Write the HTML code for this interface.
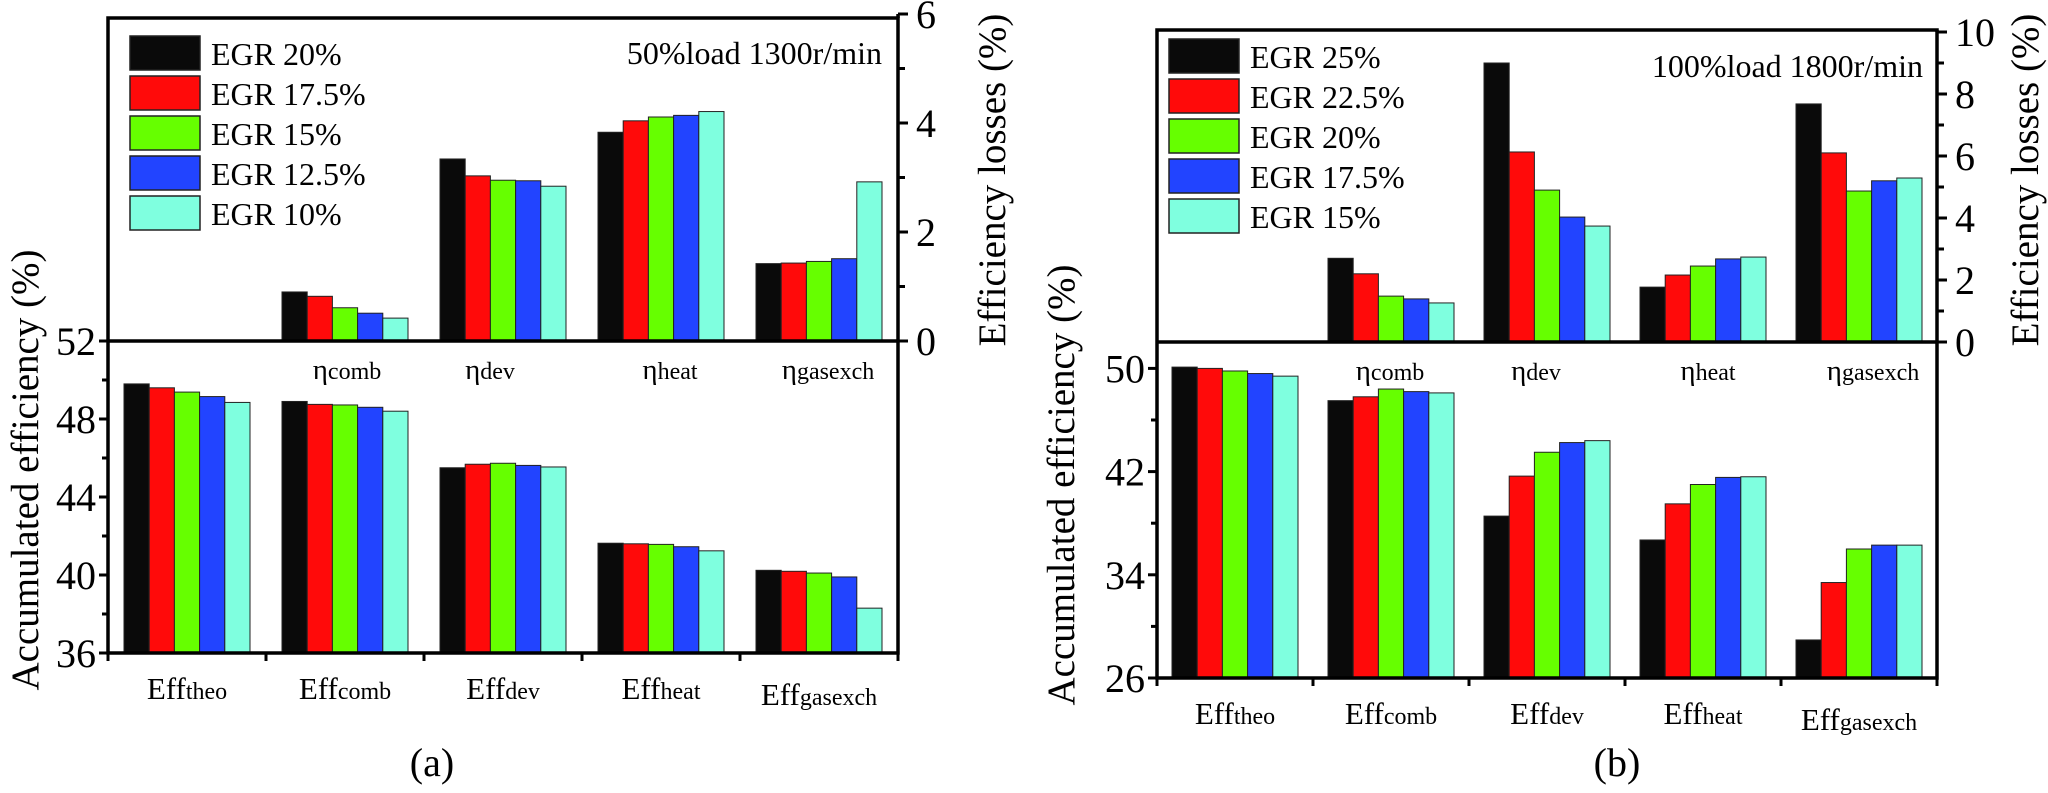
<!DOCTYPE html>
<html><head><meta charset="utf-8"><style>
html,body{margin:0;padding:0;background:#fff;}
svg, svg text{font-family:"Liberation Serif","Times New Roman",serif;}
svg{display:block;}
</style></head>
<body>
<svg id="chart" width="2048" height="793" viewBox="0 0 2048 793" xmlns="http://www.w3.org/2000/svg" font-family="Liberation Serif, serif"></svg>
<script>
const colors = ["#0a0a0a","#ff0a0a","#66ff00","#2244ff","#7fffdf"];
const legendA = ["EGR 20%","EGR 17.5%","EGR 15%","EGR 12.5%","EGR 10%"];
const legendB = ["EGR 25%","EGR 22.5%","EGR 20%","EGR 17.5%","EGR 15%"];
const lossCats = ["","comb","dev","heat","gasexch"];
const accCats = ["theo","comb","dev","heat","gasexch"];
const lossA = [null,[0.90,0.82,0.61,0.51,0.42],[3.34,3.03,2.95,2.94,2.84],[3.83,4.04,4.11,4.14,4.21],[1.42,1.43,1.46,1.51,2.92]];
const accA = [[49.8,49.6,49.38,49.15,48.85],[48.9,48.75,48.72,48.6,48.4],[45.5,45.68,45.73,45.62,45.54],[41.63,41.6,41.57,41.45,41.24],[40.24,40.19,40.1,39.9,38.3]];
const lossB = [null,[2.7,2.2,1.48,1.39,1.26],[9.0,6.13,4.9,4.03,3.74],[1.77,2.16,2.45,2.68,2.74],[7.68,6.1,4.87,5.2,5.29]];
const accB = [[50.1,50.0,49.8,49.6,49.4],[47.5,47.8,48.4,48.2,48.1],[38.55,41.65,43.5,44.25,44.4],[36.7,39.5,41.0,41.55,41.6],[28.95,33.4,36.0,36.3,36.3]];
const ticksLeftA = [36,40,44,48,52], ticksRightA=[0,2,4,6];
const ticksLeftB = [26,34,42,50], ticksRightB=[0,2,4,6,8,10];

const svg = document.getElementById('chart');
const NS = "http://www.w3.org/2000/svg";
const FF = "Liberation Serif, Times New Roman, serif";
function mk(tag, attrs, parent){const e=document.createElementNS(NS,tag);for(const k in attrs)e.setAttribute(k,attrs[k]);if(tag==='text')e.setAttribute('font-family',FF);(parent||svg).appendChild(e);return e;}

function panel(P){
  const g = mk('g',{});
  
  
  const band=(P.x1-P.x0)/5, bw=25.2;
  const yL = v => P.accBase - (v - P.accMin)*P.accScale;
  const yR = v => P.mid - v*P.lossScale;
  P.acc.forEach((row,ci)=>row.forEach((v,si)=>{
    const x = P.x0 + band*ci + (band-5*bw)/2 + si*bw;
    const r = mk('rect',{x:x,y:yL(v),width:bw,height:P.accBase-yL(v),fill:colors[si],stroke:"#222","stroke-width":1},g);
    
    
  }));
  P.loss.forEach((row,ci)=>{ if(!row) return; row.forEach((v,si)=>{
    const x = P.x0 + band*ci + (band-5*bw)/2 + si*bw;
    const r = mk('rect',{x:x,y:yR(v),width:bw,height:P.mid-yR(v),fill:colors[si],stroke:"#222","stroke-width":1},g);
    
    
  });});
  mk('rect',{x:P.x0,y:P.top,width:P.x1-P.x0,height:P.accBase-P.top,fill:"none",stroke:"#000","stroke-width":3.5},g);
  mk('line',{x1:P.x0,x2:P.x1,y1:P.mid,y2:P.mid,stroke:"#000","stroke-width":3.5},g);
  P.tL.forEach((t,i)=>{
    const y=yL(t);
    mk('line',{x1:P.x0-9,x2:P.x0,y1:y,y2:y,stroke:"#000","stroke-width":3},g);
    const tx=mk('text',{x:P.x0-12,y:y+14,"font-size":40,"text-anchor":"end"},g);tx.textContent=t;
    
    
    if(i<P.tL.length-1){const ym=yL(t+P.tLstep/2);mk('line',{x1:P.x0-6,x2:P.x0,y1:ym,y2:ym,stroke:"#000","stroke-width":3},g);}
  });
  P.tR.forEach((t,i)=>{
    const y=yR(t);
    mk('line',{x1:P.x1,x2:P.x1+10,y1:y,y2:y,stroke:"#000","stroke-width":3},g);
    const tx=mk('text',{x:P.x1+18,y:y+14,"font-size":40},g);tx.textContent=t;
    
    
    if(i<P.tR.length-1){const ym=yR(t+1);mk('line',{x1:P.x1,x2:P.x1+7,y1:ym,y2:ym,stroke:"#000","stroke-width":3},g);}
  });
  for(let i=0;i<=5;i++){const x=P.x0+band*i;mk('line',{x1:x,x2:x,y1:P.accBase,y2:P.accBase+8,stroke:"#000","stroke-width":3},g);}
  mk('line',{x1:P.x1,x2:P.x1,y1:yR(P.tR[P.tR.length-1]),y2:P.top,stroke:"#000","stroke-width":3.5},g);
  accCats.forEach((c,i)=>{
    const cx=P.x0+band*i+band/2;
    const t=mk('text',{x:cx,y:P.accBase+46,"font-size":31,"text-anchor":"middle"},g);
    
    
    t.innerHTML='Eff<tspan font-size="24">'+c+'</tspan>';
    if(c==='gasexch') t.setAttribute('y',P.accBase+52);
  });
  P.etaX.forEach((x,i)=>{
    const t=mk('text',{x:x,y:P.mid+38,"font-size":29,"text-anchor":"middle"},g);
    
    
    t.innerHTML='η<tspan font-size="24">'+lossCats[i+1]+'</tspan>';
  });
  P.leg.forEach((L,i)=>{
    const y=P.legY+i*40;
    const r=mk('rect',{x:P.legX,y:y,width:70,height:34,fill:colors[i],stroke:"#222","stroke-width":1.5},g);
    
    
    const t=mk('text',{x:P.legX+81,y:y+29,"font-size":32},g);t.textContent=L;
    
    
  });
  const an=mk('text',{x:P.annX,y:P.annY,"font-size":32,"text-anchor":"end"},g);an.textContent=P.ann;
  
  
  const lt=mk('text',{x:0,y:0,"font-size":39,"text-anchor":"middle",transform:`translate(${P.ltX},${P.ltY}) rotate(-90)`},g);
  lt.textContent='Accumulated  efficiency (%)';
  
  
  const rt=mk('text',{x:0,y:0,"font-size":39,"text-anchor":"middle",transform:`translate(${P.rtX},${P.rtY}) rotate(-90)`},g);
  rt.textContent='Efficiency losses (%)';
  
  
  const pl=mk('text',{x:P.plX,y:776,"font-size":40,"text-anchor":"middle"},g);pl.textContent=P.plab;
  
  
}

panel({name:'panel-a',x0:108,x1:898,top:18,mid:341,accBase:653,accMin:36,accScale:19.5,lossScale:54.5,
  acc:accA,loss:lossA,tL:ticksLeftA,tLstep:4,tR:ticksRightA,etaX:[347,490,670,828],
  leg:legendA,legX:130,legY:36,ann:'50%load 1300r/min',annX:882,annY:64,
  ltX:38,ltY:470,rtX:1005,rtY:180,plX:432,plab:'(a)'});
panel({name:'panel-b',x0:1157,x1:1937,top:30,mid:342,accBase:678,accMin:26,accScale:12.9,lossScale:31,
  acc:accB,loss:lossB,tL:ticksLeftB,tLstep:8,tR:ticksRightB,etaX:[1390,1536,1708,1873],
  leg:legendB,legX:1169,legY:39,ann:'100%load 1800r/min',annX:1923,annY:77,
  ltX:1074,ltY:485,rtX:2038,rtY:180,plX:1617,plab:'(b)'});
</script>
</body></html>
